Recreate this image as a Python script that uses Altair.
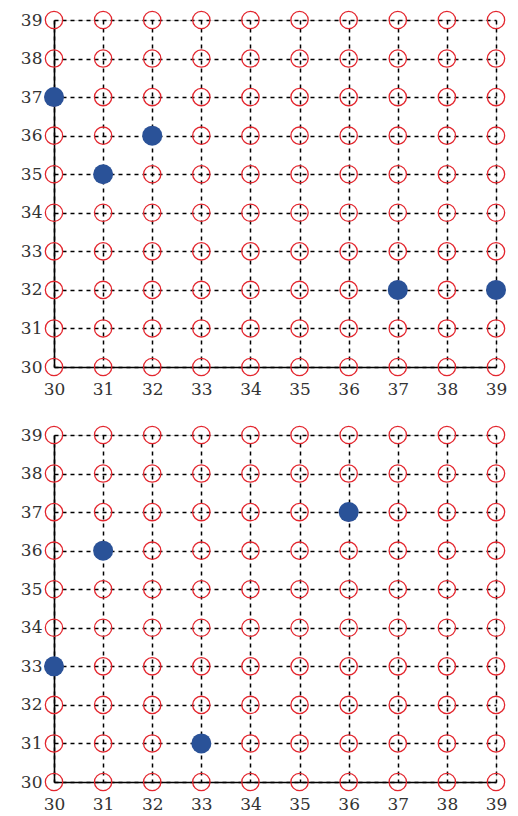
import altair as alt
import pandas as pd

grid_vals = list(range(30, 40))

top_blue_x = [30, 32, 31, 37, 39]
top_blue_y = [37, 36, 35, 32, 32]
bot_blue_x = [36, 31, 30, 33]
bot_blue_y = [37, 36, 33, 31]

FONT = "DejaVu Serif"
RED = "#e3262e"
BLUE = "#2a5298"

grid_df = pd.DataFrame([(x, y) for x in grid_vals for y in grid_vals], columns=["x", "y"])


def panel(bx, by):
    blue_df = pd.DataFrame({"x": bx, "y": by})
    xs = alt.Scale(domain=[30, 39], nice=False, zero=False)
    ys = alt.Scale(domain=[30, 39], nice=False, zero=False)
    common = dict(values=grid_vals, format="d", title=None, ticks=False, grid=True,
                  gridColor="black", gridDash=[4, 4], gridWidth=1.5, gridOpacity=1,
                  domainColor="black", domainWidth=1.6, labelFont=FONT, labelFontSize=17,
                  labelColor="#333333", labelFlush=False, labelOverlap=False,
                  tickCount=10)
    xax = alt.Axis(labelPadding=14, **common)
    yax = alt.Axis(labelPadding=12, **common)
    red = alt.Chart(grid_df).mark_point(shape="circle", filled=False, color=RED,
                                         strokeWidth=1.3, size=300, opacity=1).encode(
        x=alt.X("x:Q", scale=xs, axis=xax),
        y=alt.Y("y:Q", scale=ys, axis=yax),
    )
    blue = alt.Chart(blue_df).mark_circle(color=BLUE, size=400, opacity=1).encode(
        x=alt.X("x:Q", scale=xs, axis=xax),
        y=alt.Y("y:Q", scale=ys, axis=yax),
    )
    return alt.layer(red, blue).properties(width=442, height=347)


chart = alt.vconcat(panel(top_blue_x, top_blue_y), panel(bot_blue_x, bot_blue_y), spacing=25).properties(
    padding={"left": 11, "top": 0, "right": 0, "bottom": 0}
).configure_view(stroke=None).configure(background="white")

chart.save("out.html", embed_options={"renderer": "svg", "actions": False})
